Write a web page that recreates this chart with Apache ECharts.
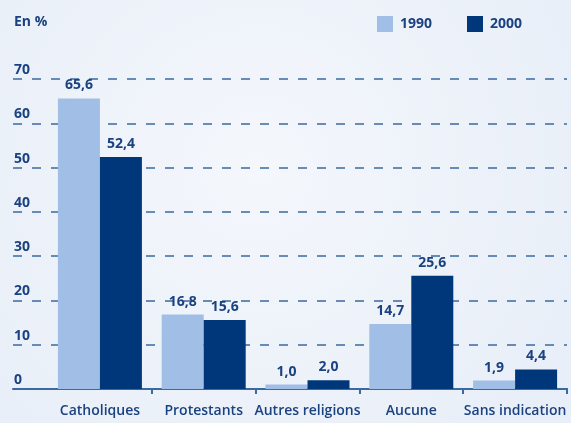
<!DOCTYPE html>
<html>
<head>
<meta charset="utf-8">
<script src="https://cdn.jsdelivr.net/npm/echarts@6/dist/echarts.min.js"></script>
<style>
html,body{margin:0;padding:0;background:#eef2f9;}
#c{width:571px;height:423px;}
</style>
</head>
<body>
<div id="c"></div>
<script>
const categories = ['Catholiques', 'Protestants', 'Autres religions', 'Aucune', 'Sans indication'];
const values1990 = [65.6, 16.8, 1.0, 14.7, 1.9];
const values2000 = [52.4, 15.6, 2.0, 25.6, 4.4];
const seriesNames = ['1990', '2000'];
const yTicks = [0, 10, 20, 30, 40, 50, 60, 70];

const txt = '#1b4280';
const font = 'Open Sans';
const fmt = p => p.value.toFixed(1).replace('.', ',');

const chart = echarts.init(document.getElementById('c'), null, {renderer: 'canvas'});
chart.setOption({
  backgroundColor: {
    type: 'radial', x: 0.45, y: 0.4, r: 0.8,
    colorStops: [{offset: 0, color: '#f4f7fc'}, {offset: 1, color: '#e9eff8'}]
  },
  animation: false,
  title: {
    text: 'En %', left: 14, top: 15, padding: 0,
    textStyle: {color: txt, fontFamily: font, fontWeight: 'bold', fontSize: 14}
  },
  legend: {
    data: seriesNames, left: 377, top: 16, padding: 0, itemWidth: 16, itemHeight: 16, itemGap: 35,
    icon: 'rect',
    textStyle: {color: txt, fontFamily: font, fontWeight: 'bold', fontSize: 14, padding: [0, 0, 0, 2]}
  },
  grid: [
    {left: 13, right: 4, top: 79, bottom: 34},
    {left: 48, right: 4, top: 79, bottom: 34}
  ],
  xAxis: [
    {gridIndex: 0, type: 'category', data: [''],
     axisLine: {show: true, lineStyle: {color: '#3a6aa0', width: 2}},
     axisTick: {show: false}, axisLabel: {show: false}},
    {gridIndex: 1, type: 'category', data: categories,
     axisLine: {show: true, lineStyle: {color: '#3a6aa0', width: 2}},
     axisTick: {show: true, length: 5, interval: (i) => i !== 0, lineStyle: {color: '#3a6aa0', width: 2}},
     axisLabel: {color: txt, fontFamily: font, fontWeight: 600, fontSize: 14, margin: 15, interval: 0}}
  ],
  yAxis: [
    {gridIndex: 0, type: 'value', min: 0, max: 70, interval: 10,
     axisLine: {show: false}, axisTick: {show: false},
     axisLabel: {inside: true, margin: 1, align: 'left', verticalAlign: 'bottom',
       padding: [0, 0, 2, 0], color: txt, fontFamily: font, fontWeight: 'bold', fontSize: 14,
       formatter: v => yTicks.includes(v) ? String(v) : ''},
     splitLine: {show: true, lineStyle: {color: '#3a6aa0', width: 1.5, type: [9, 10]}}},
    {gridIndex: 1, type: 'value', min: 0, max: 70, interval: 10, show: false,
     splitLine: {show: false}}
  ],
  series: [
    {name: seriesNames[0], type: 'bar', xAxisIndex: 1, yAxisIndex: 1, data: values1990,
     barWidth: 42, barGap: '0%', itemStyle: {color: '#a0bee6'},
     label: {show: true, position: 'top', distance: 6, formatter: fmt,
       color: txt, fontFamily: font, fontWeight: 'bold', fontSize: 14}},
    {name: seriesNames[1], type: 'bar', xAxisIndex: 1, yAxisIndex: 1, data: values2000,
     barWidth: 42, barGap: '0%', itemStyle: {color: '#00377a'},
     label: {show: true, position: 'top', distance: 6, formatter: fmt,
       color: txt, fontFamily: font, fontWeight: 'bold', fontSize: 14}}
  ]
});
</script>
</body>
</html>
